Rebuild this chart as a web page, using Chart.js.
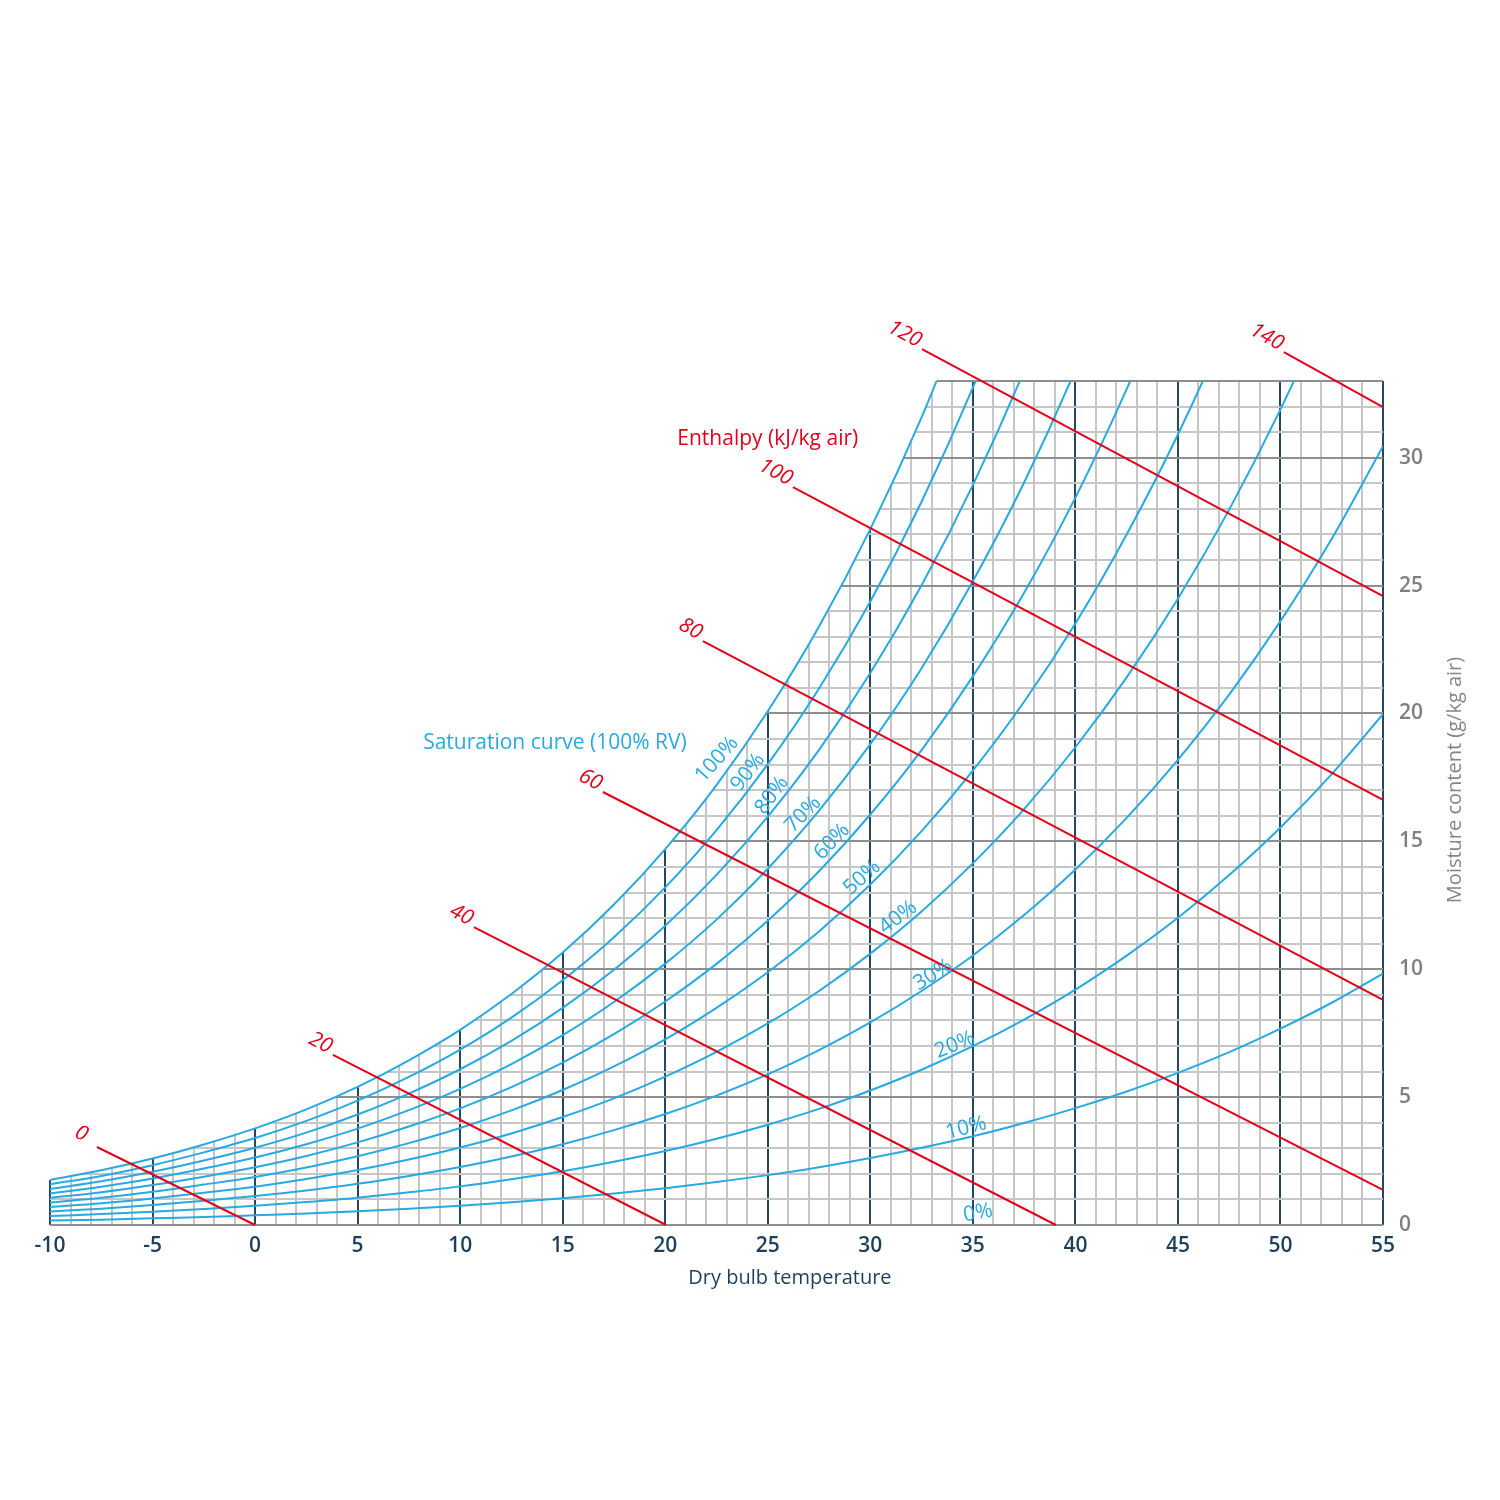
<!DOCTYPE html>
<html>
<head>
<meta charset="utf-8">
<title>Psychrometric chart</title>
<script src="https://cdn.jsdelivr.net/npm/chart.js@4.4.1/dist/chart.umd.min.js"></script>
<style>
  html, body { margin: 0; padding: 0; background: #fff; }
  #chart { display: block; }
</style>
</head>
<body>
<canvas id="chart" width="1500" height="1500"></canvas>
<script>
// --- DATA ---
// dry bulb temperature, °C
const temps = [-10, -7.5, -5, -2.5, 0, 2.5, 5, 7.5, 10, 12.5, 15, 17.5, 20, 22.5, 25, 27.5, 30, 32.5, 35, 37.5, 40, 42.5, 45, 47.5, 50, 52.5, 55];

// moisture content (g/kg air) on each relative humidity curve
const rh100 = [1.76, 2.14, 2.60, 3.15, 3.78, 4.52, 5.40, 6.44, 7.63, 9.03, 10.65, 12.53, 14.70, 17.20, 20.09, 23.40, 27.21, 31.58, 36.59, null, null, null, null, null, null, null, null];
const rh90 = [1.59, 1.92, 2.34, 2.84, 3.40, 4.07, 4.86, 5.79, 6.86, 8.11, 9.57, 11.25, 13.20, 15.44, 18.02, 20.98, 24.38, 28.28, 32.74, 37.83, null, null, null, null, null, null, null];
const rh80 = [1.41, 1.71, 2.08, 2.52, 3.02, 3.61, 4.32, 5.14, 6.09, 7.20, 8.49, 9.98, 11.70, 13.69, 15.97, 18.58, 21.58, 25.01, 28.93, 33.40, 38.51, null, null, null, null, null, null];
const rh70 = [1.23, 1.50, 1.82, 2.21, 2.64, 3.16, 3.77, 4.49, 5.32, 6.29, 7.42, 8.72, 10.22, 11.94, 13.93, 16.20, 18.80, 21.77, 25.17, 29.03, 33.44, 38.47, null, null, null, null, null];
const rh60 = [1.06, 1.28, 1.56, 1.89, 2.26, 2.70, 3.23, 3.85, 4.56, 5.39, 6.35, 7.46, 8.74, 10.21, 11.90, 13.83, 16.05, 18.57, 21.45, 24.72, 28.44, 32.68, 37.47, 42.91, null, null, null];
const rh50 = [0.88, 1.07, 1.30, 1.58, 1.88, 2.25, 2.69, 3.20, 3.79, 4.48, 5.28, 6.20, 7.26, 8.49, 9.88, 11.48, 13.31, 15.40, 17.77, 20.46, 23.52, 27.00, 30.91, 35.35, 40.37, null, null];
const rh40 = [0.70, 0.85, 1.04, 1.26, 1.50, 1.80, 2.15, 2.56, 3.03, 3.58, 4.22, 4.95, 5.80, 6.77, 7.88, 9.15, 10.61, 12.26, 14.14, 16.26, 18.68, 21.41, 24.49, 27.97, 31.89, 36.30, 41.27];
const rh30 = [0.53, 0.64, 0.78, 0.95, 1.13, 1.35, 1.61, 1.92, 2.27, 2.68, 3.16, 3.71, 4.34, 5.06, 5.89, 6.84, 7.92, 9.15, 10.54, 12.12, 13.90, 15.92, 18.19, 20.74, 23.61, 26.83, 30.45];
const rh20 = [0.35, 0.43, 0.52, 0.63, 0.75, 0.90, 1.07, 1.28, 1.51, 1.79, 2.10, 2.47, 2.89, 3.37, 3.92, 4.54, 5.26, 6.07, 6.99, 8.03, 9.20, 10.53, 12.01, 13.68, 15.54, 17.63, 19.97];
const rh10 = [0.18, 0.21, 0.26, 0.31, 0.38, 0.45, 0.54, 0.64, 0.75, 0.89, 1.05, 1.23, 1.44, 1.68, 1.95, 2.26, 2.62, 3.02, 3.47, 3.99, 4.57, 5.22, 5.95, 6.76, 7.68, 8.69, 9.83];

const rhNames = ['100%', '90%', '80%', '70%', '60%', '50%', '40%', '30%', '20%', '10%'];
const rhSeries = [rh100, rh90, rh80, rh70, rh60, rh50, rh40, rh30, rh20, rh10];

// enthalpy lines (kJ/kg air): start and end points in (°C, g/kg)
const enthalpyValues = [0, 20, 40, 60, 80, 100, 120, 140];
const enthalpyStartT = [-7.71, 3.80, 10.67, 16.96, 21.84, 26.23, 32.52, 50.17];
const enthalpyStartW = [3.05, 6.65, 11.65, 16.93, 22.83, 28.85, 34.25, 34.13];
const enthalpyEndT = [0, 20.04, 39.05, 55, 55, 55, 55, 55];
const enthalpyEndW = [0, 0, 0, 1.37, 8.80, 16.62, 24.59, 31.98];

// tick labels
const xTickStep = 5;
const yTickStep = 5;

// --- STYLES ---
const BLUE = '#27a9e1';
const RED = '#e2001a';
const NAVY = '#274761';
const GRID_MAJOR = '#8e8e8e';
const GRID_MINOR = '#c6c6c6';
const FONT = '"Open Sans", "Noto Sans", sans-serif';

// labels written along the curves
const rhLabelText = ['100%', '90%', '80%', '70%', '60%', '50%', '40%', '30%', '20%', '10%', '0%'];
const rhLabelT = [22.52, 24.04, 25.20, 26.72, 28.13, 29.60, 31.35, 33.06, 34.13, 34.67, 35.25];
const rhLabelW = [18.20, 17.70, 16.80, 16.05, 14.99, 13.58, 12.02, 9.78, 7.04, 3.79, 0.47];
const rhLabelAngle = [-48, -52, -54, -46, -46, -41, -37, -31, -22, -14, -10];

// --- DATASETS ---
const datasets = [];
rhSeries.forEach((values, k) => {
    datasets.push({
        label: rhNames[k],
        data: temps.map((t, i) => ({ x: t, y: values[i] })),
        borderColor: BLUE,
        borderWidth: 2,
        pointRadius: 0,
        fill: false,
        spanGaps: false,
        cubicInterpolationMode: 'monotone',
        order: 2
    });
});
enthalpyValues.forEach((h, i) => {
    datasets.push({
        label: 'h' + h,
        data: [
            { x: enthalpyStartT[i], y: enthalpyStartW[i] },
            { x: enthalpyEndT[i], y: enthalpyEndW[i] }
        ],
        borderColor: RED,
        borderWidth: 2,
        pointRadius: 0,
        fill: false,
        clip: false,
        order: 1
    });
});

// --- PLUGINS ---
// the grid only exists below the saturation curve (dataset 0)
const gridClip = {
    id: 'gridClip',
    beforeDraw(chart) {
        const area = chart.chartArea;
        const meta = chart.getDatasetMeta(0);
        const line = meta.dataset;
        const pts = meta.data.filter(p => !p.skip);
        const ctx = chart.ctx;
        ctx.save();
        if (!line || pts.length < 2) return;
        line.updateControlPoints(area, 'x');
        ctx.beginPath();
        line.path(ctx);
        ctx.lineTo(area.right + 4, pts[pts.length - 1].y);
        ctx.lineTo(area.right + 4, area.bottom + 4);
        ctx.lineTo(area.left - 4, area.bottom + 4);
        ctx.lineTo(area.left - 4, pts[0].y);
        ctx.closePath();
        ctx.clip();
    },
    beforeDatasetsDraw(chart) {
        chart.ctx.restore();
    }
};

const annotations = {
    id: 'annotations',
    afterDatasetsDraw(chart) {
        const { ctx, chartArea, scales: { x, y } } = chart;
        ctx.save();

        // enthalpy numbers, just before each red line
        ctx.font = 'italic 21px ' + FONT;
        ctx.fillStyle = RED;
        ctx.textAlign = 'right';
        ctx.textBaseline = 'middle';
        enthalpyValues.forEach((h, i) => {
            const x0 = x.getPixelForValue(enthalpyStartT[i]);
            const y0 = y.getPixelForValue(enthalpyStartW[i]);
            const x1 = x.getPixelForValue(enthalpyEndT[i]);
            const y1 = y.getPixelForValue(enthalpyEndW[i]);
            ctx.save();
            ctx.translate(x0, y0);
            ctx.rotate(Math.atan2(y1 - y0, x1 - x0));
            ctx.fillText(String(h), h === 0 ? -14 : -5, -5);
            ctx.restore();
        });

        // relative humidity labels
        ctx.font = '21px ' + FONT;
        ctx.fillStyle = BLUE;
        ctx.textAlign = 'center';
        rhLabelText.forEach((txt, i) => {
            ctx.save();
            ctx.translate(x.getPixelForValue(rhLabelT[i]), y.getPixelForValue(rhLabelW[i]));
            ctx.rotate(rhLabelAngle[i] * Math.PI / 180);
            ctx.fillText(txt, 0, 0);
            ctx.restore();
        });

        // curve titles
        ctx.font = '21px ' + FONT;
        ctx.fillStyle = RED;
        ctx.fillText('Enthalpy (kJ/kg air)', x.getPixelForValue(25.0), y.getPixelForValue(30.75));
        ctx.fillStyle = BLUE;
        ctx.fillText('Saturation curve (100% RV)', x.getPixelForValue(14.62), y.getPixelForValue(18.85));

        // axis titles
        ctx.font = '20px ' + FONT;
        ctx.fillStyle = '#1d3f5c';
        ctx.fillText('Dry bulb temperature', x.getPixelForValue(26.08), chartArea.bottom + 53);
        ctx.save();
        ctx.fillStyle = '#858585';
        ctx.translate(chartArea.right + 72, y.getPixelForValue(17.4));
        ctx.rotate(-Math.PI / 2);
        ctx.fillText('Moisture content (g/kg air)', 0, 0);
        ctx.restore();

        ctx.restore();
    }
};

// --- CHART ---
new Chart(document.getElementById('chart').getContext('2d'), {
    type: 'line',
    data: { datasets },
    options: {
        responsive: false,
        devicePixelRatio: 1,
        animation: false,
        events: [],
        layout: { padding: { left: 50, top: 381, right: 0, bottom: 0 } },
        plugins: {
            legend: { display: false },
            tooltip: { enabled: false },
            title: { display: false }
        },
        scales: {
            x: {
                type: 'linear',
                min: -10,
                max: 55,
                afterFit: s => { s.height = 275; },
                border: { display: false },
                grid: {
                    drawTicks: false,
                    lineWidth: 2,
                    color: c => (c.tick && c.tick.value % 5 === 0) ? NAVY : GRID_MINOR
                },
                ticks: {
                    stepSize: 1,
                    autoSkip: false,
                    maxRotation: 0,
                    padding: 8,
                    z: 1,
                    color: '#1d3f5c',
                    font: { family: FONT, size: 21, weight: '600' },
                    callback: v => (v % xTickStep === 0 ? String(v) : '')
                }
            },
            y: {
                type: 'linear',
                position: 'right',
                min: 0,
                max: 33,
                afterFit: s => { s.width = 117; },
                border: { display: false },
                grid: {
                    drawTicks: false,
                    lineWidth: 2,
                    color: c => (c.tick && (c.tick.value % 5 === 0 || c.tick.value === 33)) ? GRID_MAJOR : GRID_MINOR
                },
                ticks: {
                    stepSize: 1,
                    autoSkip: false,
                    padding: 16,
                    z: 1,
                    color: '#7f7f7f',
                    font: { family: FONT, size: 21, weight: '600' },
                    callback: v => (v % yTickStep === 0 ? String(v) : '')
                }
            }
        }
    },
    plugins: [gridClip, annotations]
});
</script>
</body>
</html>
